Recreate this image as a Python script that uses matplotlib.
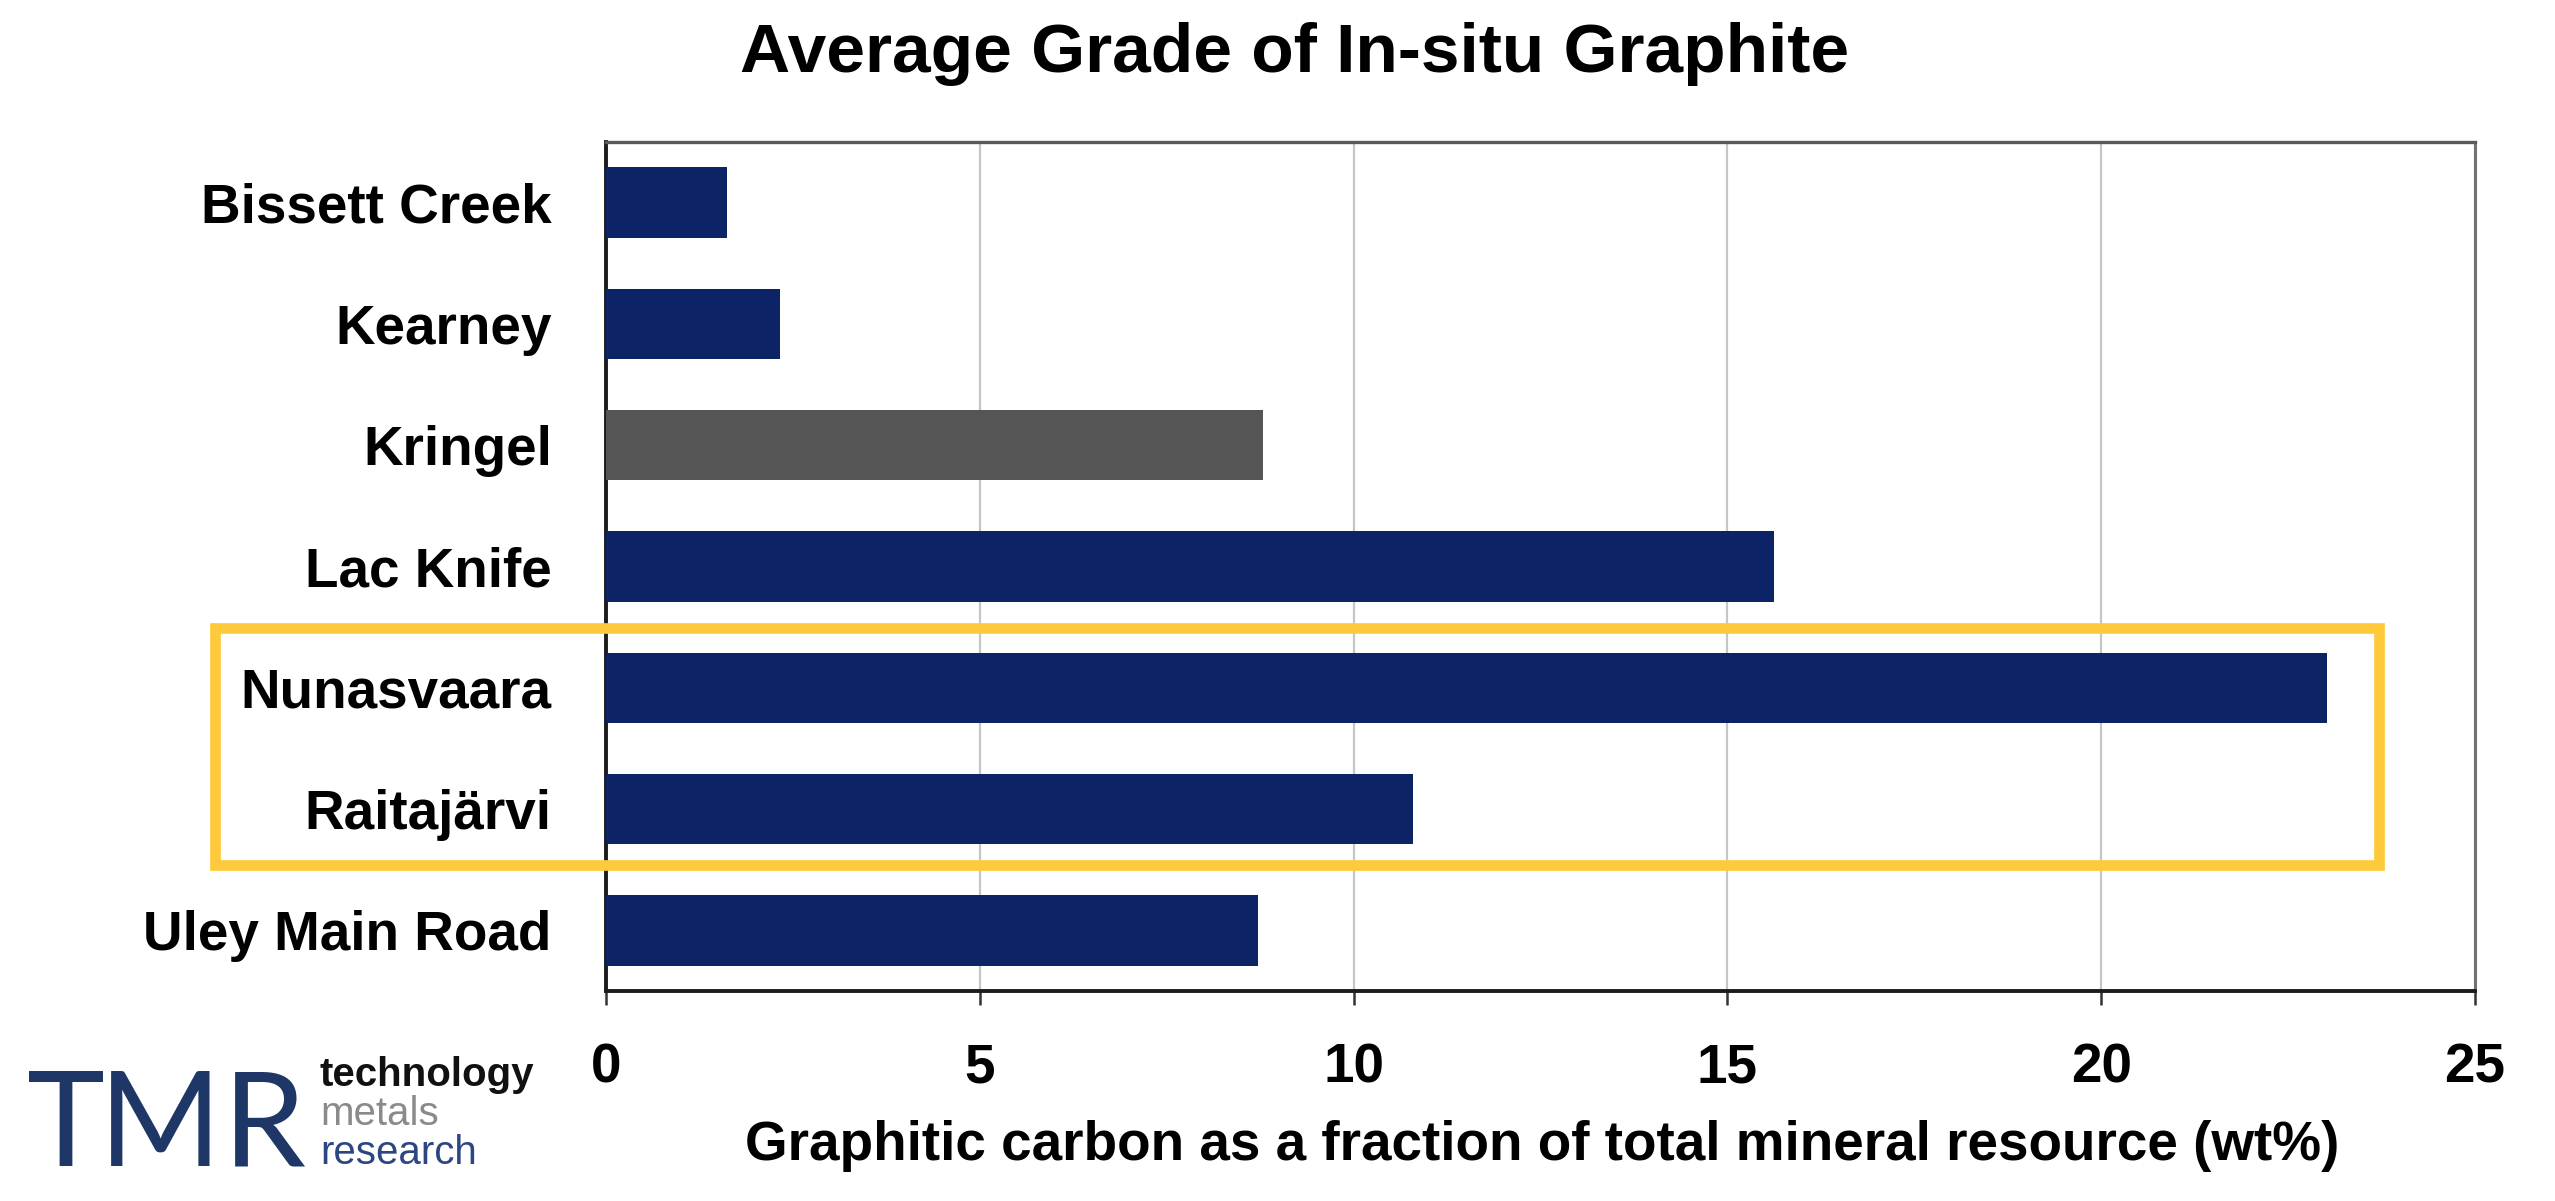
import numpy as np
import matplotlib
matplotlib.use('Agg')
import matplotlib.pyplot as plt
from matplotlib.patches import Rectangle

plt.rcParams['font.family'] = ['Liberation Sans', 'DejaVu Sans']

# data
projects = ['Bissett Creek', 'Kearney', 'Kringel', 'Lac Knife',
            'Nunasvaara', 'Raitajärvi', 'Uley Main Road']
grade_wt = [1.62, 2.33, 8.79, 15.63, 23.02, 10.79, 8.72]
x_ticks = [0, 5, 10, 15, 20, 25]
highlight = 'Kringel'

NAVY = '#0c2466'
GREY = '#555555'
YELLOW = '#FFC93C'

W, H = 2555, 1201
DPI = 100
fig = plt.figure(figsize=(W / DPI, H / DPI), dpi=DPI)
fig.patch.set_facecolor('white')

# axes box in pixels: left 606, right 2475, top 142, bottom 991
ax = fig.add_axes([606 / W, 1 - 991 / H, (2475 - 606) / W, (991 - 142) / H])

ypos = np.arange(len(projects))
colors = [GREY if p == highlight else NAVY for p in projects]
ax.barh(ypos, grade_wt, height=0.58, color=colors, zorder=3)

ax.set_xlim(x_ticks[0], x_ticks[-1])
ax.set_ylim(len(projects) - 0.5, -0.5)
ax.set_xticks(x_ticks)
ax.set_xticklabels([str(t) for t in x_ticks])
ax.set_yticks(ypos)
ax.set_yticklabels(projects)

ax.xaxis.grid(True, color='#c6c6c6', lw=1.6, zorder=0)
ax.set_axisbelow(True)

for side in ('left', 'bottom'):
    ax.spines[side].set_color('#1c1c1c')
    ax.spines[side].set_linewidth(2.8)
ax.spines['top'].set_color('#5a5a5a')
ax.spines['top'].set_linewidth(2.4)
ax.spines['right'].set_color('#727272')
ax.spines['right'].set_linewidth(2.2)

ax.tick_params(axis='x', length=10, width=1.8, color='#333333', pad=27,
               labelsize=39.5)
ax.tick_params(axis='y', length=0, pad=39, labelsize=39.5)
for lbl in ax.get_xticklabels() + ax.get_yticklabels():
    lbl.set_fontweight('bold')

fig.text(1295 / W, 1 - 72 / H, 'Average Grade of In-situ Graphite',
         ha='center', va='baseline', fontsize=50, fontweight='bold')
fig.text(1542 / W, 1 - 1160 / H,
         'Graphitic carbon as a fraction of total mineral resource (wt%)',
         ha='center', va='baseline', fontsize=39.5, fontweight='bold')

# yellow highlight frame around the Swedish projects
frame = Rectangle((215 / W, 1 - 865 / H), (2379 - 215) / W, (865 - 628) / H,
                  transform=fig.transFigure, fill=False, edgecolor=YELLOW,
                  lw=7.7, zorder=10)
fig.add_artist(frame)

# TMR logo
for letter, xc in zip('TMR', (66, 160, 264)):
    fig.text(xc / W, 1 - 1166 / H, letter, ha='center', va='baseline',
             fontsize=95, family=['Lato', 'DejaVu Sans'], color='#1f3766')
for word, yb, col, wt in (('technology', 1086, '#111111', 'bold'),
                          ('metals', 1125, '#8a8a8a', 'normal'),
                          ('research', 1164, '#2c4682', 'normal')):
    fig.text(320 / W, 1 - yb / H, word, ha='left', va='baseline',
             fontsize=29, fontweight=wt, color=col)

fig.savefig('out.png', dpi=DPI)
